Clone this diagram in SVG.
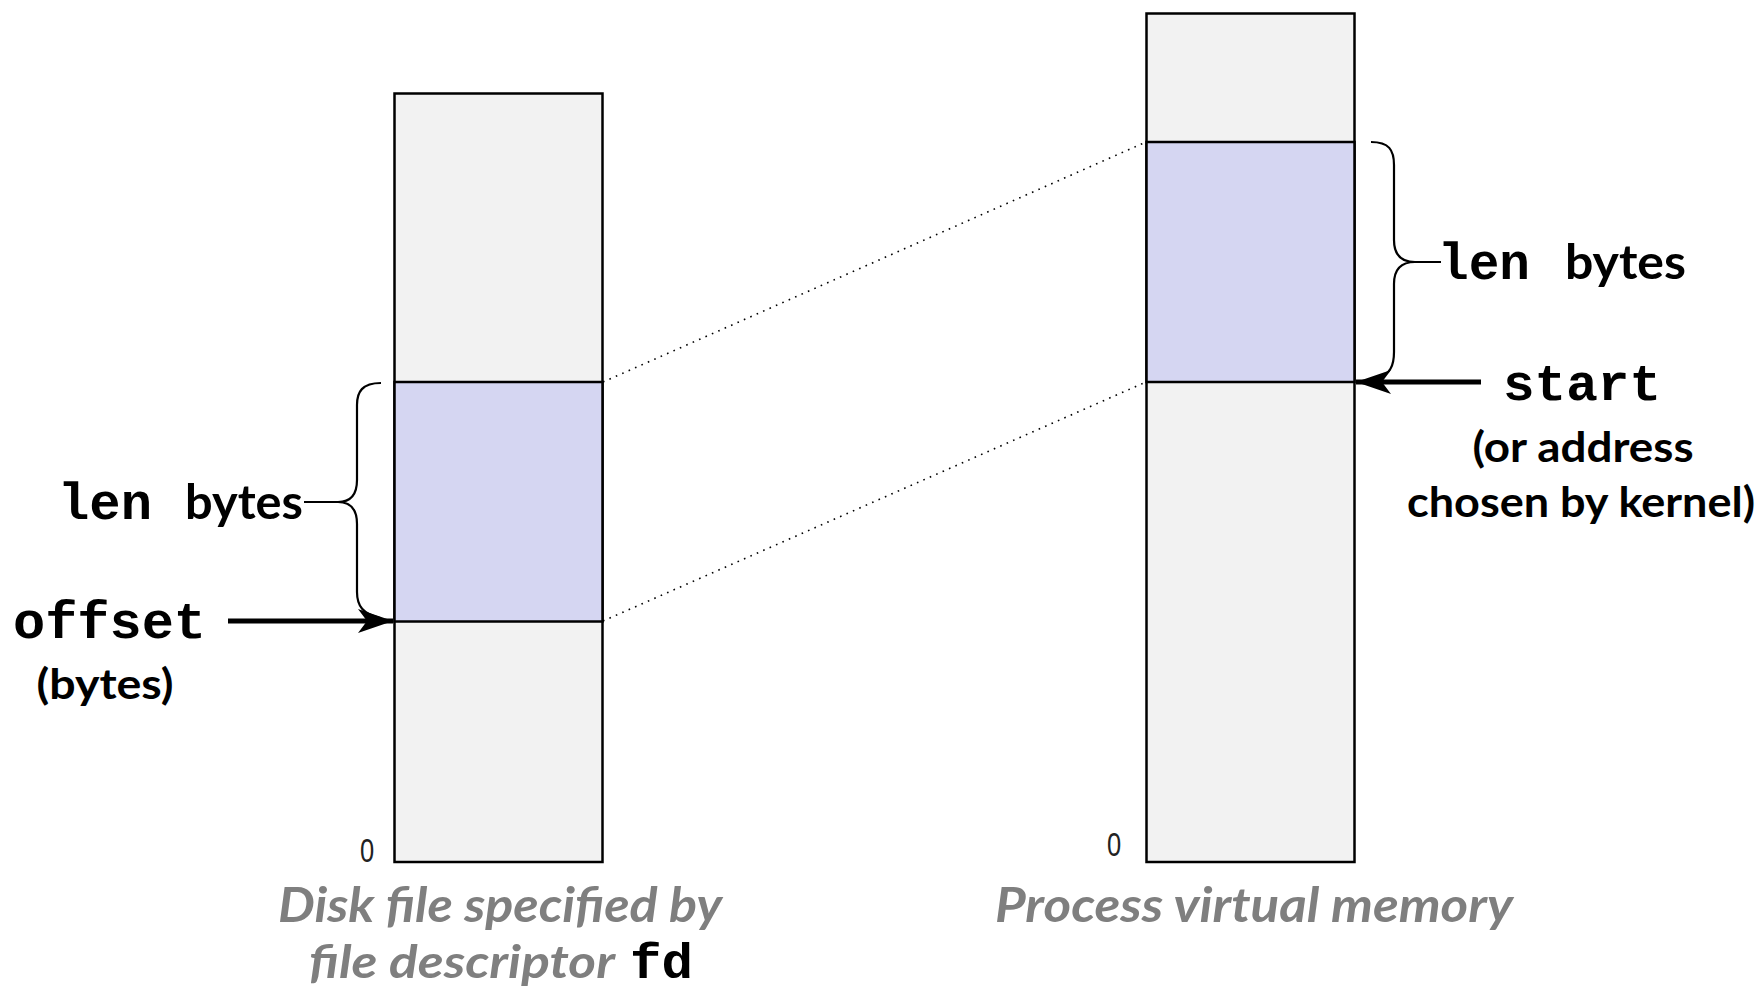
<svg xmlns="http://www.w3.org/2000/svg" width="1762" height="992" viewBox="0 0 1762 992">
<style>
.col{fill:#f2f2f2;stroke:#000;stroke-width:2.5}
.band{fill:#d5d6f2;stroke:#000;stroke-width:2.5}
.mono{font-family:"Liberation Mono","Courier New",monospace;font-weight:bold;fill:#000}
.sans{font-family:Lato,"Open Sans",sans-serif;font-weight:bold;fill:#000}
.cap{font-family:Lato,"Open Sans",sans-serif;font-weight:bold;font-style:italic;fill:#7f7f7f}
.zero{font-family:"Liberation Sans Narrow","Liberation Sans",sans-serif;fill:#222}
.dot{stroke:#000;stroke-width:1.6;stroke-dasharray:1.6 5.4;fill:none}
.brace{stroke:#000;stroke-width:2.2;fill:none}
.arr{stroke:#000;stroke-width:5;fill:none}
</style>
<defs>
<marker id="ah" markerUnits="userSpaceOnUse" markerWidth="36" markerHeight="26" viewBox="0 0 36 26" refX="35" refY="13" orient="auto">
<path d="M35,13 L0,1 L9,13 L0,25 Z" fill="#000"/>
</marker>
</defs>
<rect width="1762" height="992" fill="#fff"/>
<g id="disk-file">
<rect class="col" x="394.5" y="93.5" width="208" height="768.5"/>
<rect class="band" x="394.5" y="382" width="208" height="239.5"/>
<text class="zero" x="367" y="862" font-size="34" text-anchor="middle" transform="translate(367 0) scale(0.75 1) translate(-367 0)">0</text>
<text class="cap" x="500" y="922" font-size="47" text-anchor="middle" textLength="444" lengthAdjust="spacingAndGlyphs">Disk file specified by</text>
<text class="cap" x="309" y="978" font-size="46" textLength="306" lengthAdjust="spacingAndGlyphs">file descriptor</text>
<text class="mono" x="630" y="978" font-size="50" textLength="63" lengthAdjust="spacingAndGlyphs">fd</text>
</g>
<g id="virtual-memory">
<rect class="col" x="1146.5" y="13.5" width="208" height="848.5"/>
<rect class="band" x="1146.5" y="142" width="208" height="240"/>
<text class="zero" x="1114" y="856" font-size="34" text-anchor="middle" transform="translate(1114 0) scale(0.75 1) translate(-1114 0)">0</text>
<text class="cap" x="1254" y="922" font-size="47" text-anchor="middle" textLength="518" lengthAdjust="spacingAndGlyphs">Process virtual memory</text>
</g>
<g id="left-labels">
<text class="mono" x="58" y="519" font-size="52" textLength="94" lengthAdjust="spacingAndGlyphs">len</text>
<text class="sans" x="185" y="519" font-size="48" textLength="118" lengthAdjust="spacingAndGlyphs">bytes</text>
<text class="mono" x="13" y="638" font-size="52" textLength="193" lengthAdjust="spacingAndGlyphs">offset</text>
<text class="sans" x="105" y="699" font-size="42" text-anchor="middle" textLength="137" lengthAdjust="spacingAndGlyphs">(bytes)</text>
</g>
<g id="right-labels">
<text class="mono" x="1438" y="279" font-size="52" textLength="92" lengthAdjust="spacingAndGlyphs">len</text>
<text class="sans" x="1565" y="279" font-size="48" textLength="121" lengthAdjust="spacingAndGlyphs">bytes</text>
<text class="mono" x="1503" y="400" font-size="52" textLength="158" lengthAdjust="spacingAndGlyphs">start</text>
<text class="sans" x="1583" y="462" font-size="42" text-anchor="middle" textLength="221" lengthAdjust="spacingAndGlyphs">(or address</text>
<text class="sans" x="1581" y="517" font-size="42" text-anchor="middle" textLength="348" lengthAdjust="spacingAndGlyphs">chosen by kernel)</text>
</g>
<g id="connectors">
<line class="dot" x1="603" y1="382" x2="1146" y2="142"/>
<line class="dot" x1="603" y1="621" x2="1146" y2="382"/>
<path class="brace" d="M381,383 C362,383 357,392 357,405 L357,480 C357,495 350,502 338,502 L304,502 M338,502 C350,502 357,509 357,524 L357,592 C357,606 363,614 380,618"/>
<path class="brace" d="M1371,142 C1389,142 1394,150 1394,165 L1394,240 C1394,255 1401,262 1415,262 L1441,262 M1415,262 C1401,262 1394,269 1394,284 L1394,352 C1394,366 1390,374 1378,378"/>
<line class="arr" x1="228" y1="621" x2="393" y2="621" marker-end="url(#ah)"/>
<line class="arr" x1="1481" y1="382" x2="1356" y2="382" marker-end="url(#ah)"/>
</g>
</svg>
